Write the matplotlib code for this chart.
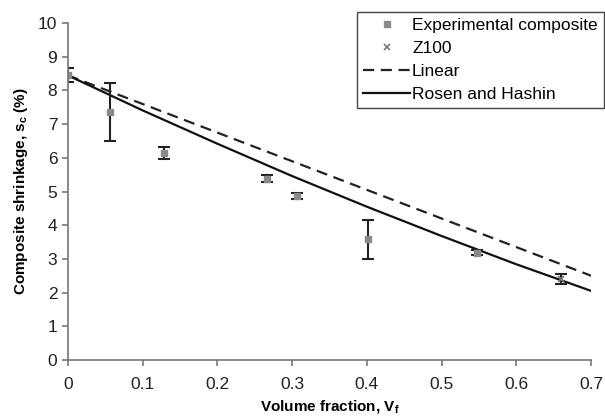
import matplotlib.pyplot as plt
import numpy as np

plt.rcParams['font.family'] = ['Liberation Sans', 'DejaVu Sans']

# experimental composite shrinkage
vf_exp = [0.0, 0.057, 0.129, 0.267, 0.307, 0.401, 0.548]
sc_exp = [8.46, 7.36, 6.14, 5.38, 4.87, 3.59, 3.18]
err_lo = [0.2, 0.85, 0.18, 0.1, 0.08, 0.58, 0.07]
err_hi = [0.2, 0.85, 0.18, 0.1, 0.08, 0.56, 0.07]

# Z100
vf_z = [0.66]
sc_z = [2.4]
err_z = [0.15]

# model curves
vf_lin = [0.0, 0.7]
sc_lin = [8.45, 2.5]
vf_rh = [0.0, 0.1, 0.2, 0.3, 0.4, 0.5, 0.6, 0.7]
sc_rh = [8.45, 7.41, 6.42, 5.46, 4.55, 3.68, 2.84, 2.05]

fig = plt.figure(figsize=(6.05, 4.2), dpi=100)
ax = fig.add_axes([0.112, 0.143, 0.865, 0.802])

ax.plot(vf_lin, sc_lin, color='#222222', ls=(0, (5, 3)), lw=1.6, label='Linear')
ax.plot(vf_rh, sc_rh, color='#111111', ls='-', lw=1.6, label='Rosen and Hashin')

ax.errorbar(vf_exp, sc_exp, yerr=[err_lo, err_hi], fmt='none', ecolor='#222222',
            elinewidth=1.5, capsize=4, capthick=1.5)
ax.errorbar(vf_z, sc_z, yerr=err_z, fmt='none', ecolor='#222222',
            elinewidth=1.5, capsize=4, capthick=1.5)
ax.plot(vf_exp, sc_exp, 's', color='#8a8a8a', ms=4, ls='none',
        label='Experimental composite')
ax.plot(vf_z, sc_z, 'x', color='#777777', ms=5, mew=1.2, ls='none', label='Z100')

ax.set_xlim(0, 0.7)
ax.set_ylim(0, 10)
ax.set_xticks(np.arange(0, 0.71, 0.1))
ax.set_xticklabels(['0', '0.1', '0.2', '0.3', '0.4', '0.5', '0.6', '0.7'])
ax.set_yticks(range(0, 11))

for s in ['top', 'right']:
    ax.spines[s].set_visible(False)
for s in ['left', 'bottom']:
    ax.spines[s].set_color('#777777')
    ax.spines[s].set_linewidth(1.2)
ax.tick_params(colors='#777777', labelcolor='#222222', labelsize=12.5,
               length=4, width=1.2)
ax.tick_params(axis='x', pad=8)

ax.set_xlabel('Volume fraction, V$_\\mathregular{f}$', fontsize=11,
              fontweight='bold', labelpad=5)
ax.set_ylabel('Composite shrinkage, s$_\\mathregular{c}$ (%)', fontsize=11,
              fontweight='bold', labelpad=6)

h, l = ax.get_legend_handles_labels()
order = [2, 3, 0, 1]
leg = fig.legend([h[i] for i in order], [l[i] for i in order],
                 loc='upper right', bbox_to_anchor=(0.998, 0.972),
                 fontsize=12.5, frameon=True, fancybox=False, framealpha=1,
                 edgecolor='#444444', handlelength=2.7, handletextpad=0.1,
                 borderpad=0.35, labelspacing=0.45, borderaxespad=0)
leg.get_frame().set_linewidth(1.0)

fig.savefig('out.png', dpi=100)
